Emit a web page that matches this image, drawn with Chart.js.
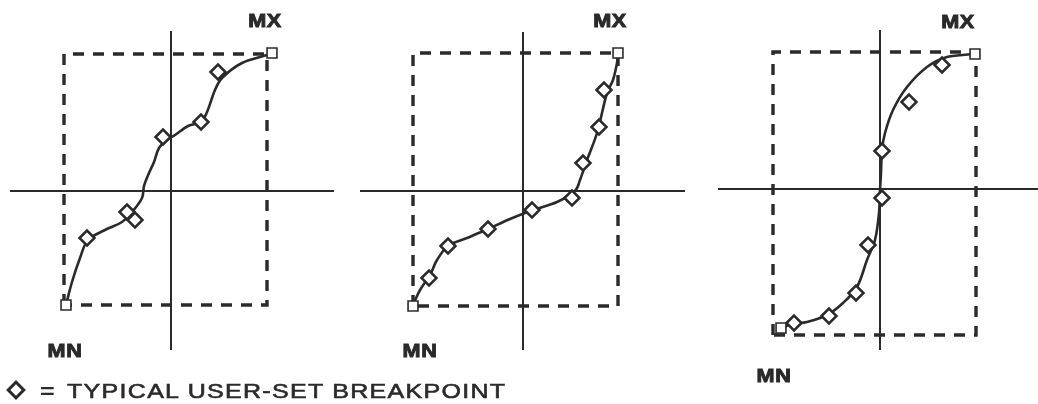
<!DOCTYPE html>
<html>
<head>
<meta charset="utf-8">
<script src="https://cdn.jsdelivr.net/npm/chart.js@4/dist/chart.umd.min.js"></script>
<style>
  body { margin: 0; background: #fff; }
  #wrap { position: relative; width: 1038px; height: 404px; overflow: hidden; background: #fff; }
  canvas { position: absolute; top: 0; }
  .lbl { position: absolute; font-family: "Liberation Sans", Arial, sans-serif; font-weight: bold;
         font-size: 18px; letter-spacing: 0.5px; color: #2a2a2a; -webkit-text-stroke: 0.9px #2a2a2a;
         transform: translate(-50%, -50%) scaleX(1.2); white-space: nowrap; line-height: 1; }
  .leg { position: absolute; font-family: "Liberation Sans", Arial, sans-serif; font-size: 21px; color: #2a2a2a;
         white-space: nowrap; line-height: 20px; top: 381px; transform-origin: left center; }
  #legText { left: 67px; letter-spacing: 1.1px; -webkit-text-stroke: 0.6px #2a2a2a; transform: scaleX(1.19); }
  #legEq { left: 40px; font-weight: bold; transform: scaleX(1.2); }
  #legDia { position: absolute; left: 16px; top: 390px; width: 8px; height: 8px; border: 3px solid #2a2a2a;
            transform: translate(-50%, -50%) rotate(45deg); }
</style>
</head>
<body>
<div id="wrap">
  <canvas id="c1" width="346" height="404" style="left:0px"></canvas>
  <canvas id="c2" width="346" height="404" style="left:346px"></canvas>
  <canvas id="c3" width="346" height="404" style="left:692px"></canvas>
  <div class="lbl" style="left:265px;top:21px">MX</div>
  <div class="lbl" style="left:65px;top:351px">MN</div>
  <div class="lbl" style="left:610px;top:21px">MX</div>
  <div class="lbl" style="left:420px;top:351px">MN</div>
  <div class="lbl" style="left:958px;top:22px">MX</div>
  <div class="lbl" style="left:774px;top:376px">MN</div>
  <div id="legDia"></div>
  <div class="leg" id="legEq">=</div>
  <div class="leg" id="legText">TYPICAL USER-SET BREAKPOINT</div>
</div>
<script>
// values are input (x) vs output (y), axes cross at 0,0
// panel 1
var p1Curve = [[-105,-114],[-99,-91],[-91,-67],[-83,-49],[-66,-39],[-49,-31],[-39,-21],[-29,-7],[-27,5],
               [-22,18],[-17,29],[-12,43],[-4,51],[4,56],[17,65],[30,69],[36,79],[44,101],[51,113],[71,128],[96,136]];
var p1Breaks = [[-84,-47],[-44,-21],[-36,-29],[-8,54],[30,69],[47,119]];
var p1Ends = [[-105,-114],[101,138]];
var p1Box = [-107, 96, -114, 137];   // xmin, xmax, ymin, ymax
var p1Axes = [-161, 163, -159, 160]; // axis extents

// panel 2
var p2Curve = [[-110,-114],[-103,-99],[-93,-84],[-86,-69],[-75,-55],[-56,-47],[-35,-38],[-13,-28],[10,-19],
               [34,-11],[52,0],[57,11],[64,31],[74,58],[84,98],[90,111],[94,128],[95,136]];
var p2Breaks = [[-94,-87],[-75,-55],[-35,-38],[9,-19],[49,-7],[60,28],[76,64],[81,101]];
var p2Ends = [[-110,-115],[95,138]];
var p2Box = [-110, 95, -115, 138];
var p2Axes = [-163, 162, -159, 159];

// panel 3
var p3Curve = [[-100,-139],[-87,-135],[-73,-133],[-53,-126],[-37,-114],[-23,-98],[-13,-71],[-5,-51],[-1,-24],
               [0,-1],[1,16],[2,39],[5,56],[13,79],[27,102],[47,122],[67,132],[95,135]];
var p3Breaks = [[-86,-134],[-51,-127],[-24,-104],[-12,-56],[2,-9],[2,38],[29,87],[62,124]];
var p3Ends = [[-99,-139],[95,135]];
var p3Box = [-107, 96, -146, 137];
var p3Axes = [-162, 160, -161, 159];

var INK = '#2a2a2a';

function pts(arr) {
    return arr.map(function (p) { return {x: p[0], y: p[1]}; });
}

function makePanel(id, curve, breaks, ends, box, axes, origin) {
    var cv = document.getElementById(id);
    var w = cv.width, h = cv.height;
    var boxPts = [[box[0], box[2]], [box[0], box[3]], [box[1], box[3]], [box[1], box[2]], [box[0], box[2]]];
    new Chart(cv, {
        type: 'scatter',
        data: {
            datasets: [
                { data: pts(ends), pointStyle: 'rect', pointRadius: 7, backgroundColor: '#fff',
                  borderColor: INK, borderWidth: 1.6, showLine: false, clip: false },
                { data: pts(breaks), pointStyle: 'rectRot', pointRadius: 7.5, backgroundColor: '#fff',
                  borderColor: INK, borderWidth: 2.5, showLine: false, clip: false },
                { data: pts(curve), showLine: true, tension: 0.35, borderColor: INK, borderWidth: 2.6,
                  pointRadius: 0, clip: false },
                { data: pts([[axes[0], 0], [axes[1], 0]]), showLine: true, borderColor: INK, borderWidth: 2,
                  pointRadius: 0, clip: false },
                { data: pts([[0, axes[2]], [0, axes[3]]]), showLine: true, borderColor: INK, borderWidth: 2,
                  pointRadius: 0, clip: false },
                { data: pts(boxPts), showLine: true, borderColor: INK, borderWidth: 3.4, borderDash: [11, 9],
                  pointRadius: 0, tension: 0, clip: false }
            ]
        },
        options: {
            responsive: false,
            animation: false,
            layout: { padding: 0, autoPadding: false },
            plugins: { legend: { display: false }, tooltip: { enabled: false } },
            scales: {
                x: { type: 'linear', display: false, min: -origin[0], max: w - origin[0] },
                y: { type: 'linear', display: false, min: origin[1] - h, max: origin[1] }
            }
        }
    });
}

makePanel('c1', p1Curve, p1Breaks, p1Ends, p1Box, p1Axes, [171, 191]);
makePanel('c2', p2Curve, p2Breaks, p2Ends, p2Box, p2Axes, [177, 191]);
makePanel('c3', p3Curve, p3Breaks, p3Ends, p3Box, p3Axes, [188, 189]);
</script>
</body>
</html>
